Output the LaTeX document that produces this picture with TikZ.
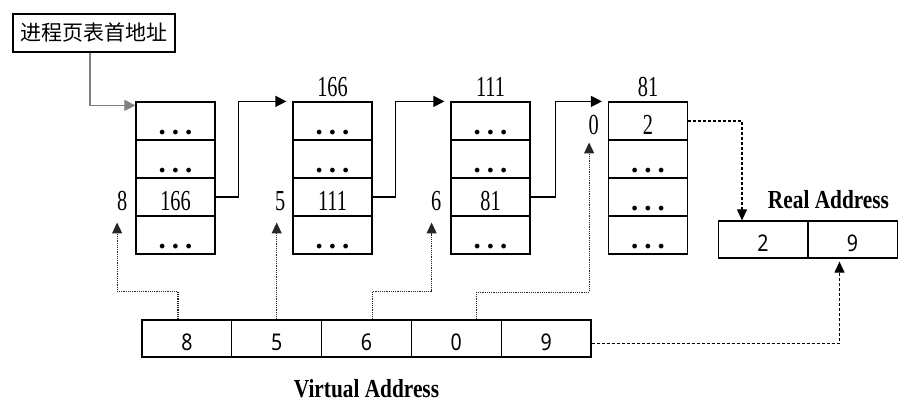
\documentclass[tikz,border=0pt]{standalone}
\usepackage{fontspec}
\setmainfont{Liberation Serif}
\newfontfamily\cjk{Noto Sans CJK SC}
\newfontfamily\tabfont[FakeStretch=0.7]{Liberation Serif}
\newfontfamily\titlefont[FakeStretch=0.82]{Liberation Serif}
\newfontfamily\numfont[FakeStretch=0.85]{Noto Sans}
\usetikzlibrary{arrows.meta, positioning, calc}
\newcommand{\ddd}{{\rmfamily\bfseries .\hspace{6pt}.\hspace{6pt}.}}

\begin{document}
\begin{tikzpicture}[x=1pt, y=-1pt,
    cell/.style={draw, line width=1.2pt, minimum width=79pt, minimum height=38pt, inner sep=0pt,
        text height=32pt, text depth=6pt, font=\tabfont\fontsize{29}{31}\selectfont},
    vcell/.style={draw, line width=1.2pt, minimum width=89.8pt, minimum height=37pt, inner sep=0pt,
        text height=30pt, text depth=7pt, font=\numfont\fontsize{23}{26}\selectfont},
    headbox/.style={draw, line width=1.4pt, minimum width=162pt, minimum height=38pt, inner sep=0pt,
        font=\cjk\fontsize{21}{24}\selectfont},
    lbl/.style={inner sep=0pt, font=\tabfont\fontsize{29}{31}\selectfont},
    title/.style={inner sep=0pt, font=\titlefont\bfseries\fontsize{26}{28}\selectfont},
    link/.style={line width=1.2pt, -{Triangle[length=11pt, width=11pt]}},
    ptr/.style={densely dotted, line width=1.2pt, black!85, -{Triangle[length=11pt, width=10pt]}},
    refline/.style={dash pattern=on 3pt off 2pt, line width=1.1pt, -{Triangle[length=11pt, width=10pt]}}]
    \useasboundingbox (0,0) rectangle (908,410);

    \node[headbox] (head) at (94,33) {进程页表首地址};

    % page tables
    \foreach \t/\x/\a/\b/\c/\d in {1/175.5/\ddd/\ddd/166/\ddd, 2/332.5/\ddd/\ddd/111/\ddd,
                                   3/490.5/\ddd/\ddd/81/\ddd, 4/648/2/\ddd/\ddd/\ddd} {
        \node[cell] (p\t-1) at (\x,121) {\a};
        \node[cell] (p\t-2) at (\x,159) {\b};
        \node[cell] (p\t-3) at (\x,197) {\c};
        \node[cell] (p\t-4) at (\x,235) {\d};
    }

    \node[lbl, anchor=base] (v2) at ([yshift=5pt]p2-1.north) {166};
    \node[lbl, anchor=base] (v3) at ([yshift=5pt]p3-1.north) {111};
    \node[lbl, anchor=base] (v4) at ([yshift=5pt]p4-1.north) {81};

    \node[lbl, anchor=base east] (k1) at ([xshift=-8pt]p1-3.base west) {8};
    \node[lbl, anchor=base east] (k2) at ([xshift=-7pt]p2-3.base west) {5};
    \node[lbl, anchor=base east] (k3) at ([xshift=-9pt]p3-3.base west) {6};
    \node[lbl, anchor=base east] (k4) at ([xshift=-9pt]p4-1.base west) {0};

    \draw[gray, line width=1.1pt, -{Triangle[length=11pt, width=11pt]}]
        ([xshift=-4pt]head.south) |- ([yshift=-4pt]p1-1.north west);
    \draw[link] (p1-3.east) -- ++(23pt,0) |- ([xshift=-6pt]p2-1.north west);
    \draw[link] (p2-3.east) -- ++(23pt,0) |- ([xshift=-6pt]p3-1.north west);
    \draw[link] (p3-3.east) -- ++(25pt,0) |- ([xshift=-6pt]p4-1.north west);

    % virtual and real address
    \foreach \i/\v in {1/8, 2/5, 3/6, 4/0, 5/9}
        \node[vcell] (a\i) at ({97.1+89.8*\i},338.5) {\v};
    \node[vcell] (r1) at (763,239.5) {2};
    \node[vcell] (r2) at (852.5,239.5) {9};

    \node[title, anchor=base] (rt) at ([xshift=20pt, yshift=12pt]r1.north east) {Real Address};
    \node[title, anchor=base] (vt) at ([yshift=-40pt]a3.south) {Virtual Address};

    \coordinate (e1) at ([xshift=-5pt, yshift=-12pt]k1.south);
    \coordinate (e2) at ([yshift=-12pt]k2.south);
    \coordinate (e3) at ([xshift=-4.5pt, yshift=-12pt]k3.south);
    \coordinate (e4) at ([xshift=-4.5pt, yshift=-8pt]k4.south);

    \draw[ptr] ([xshift=-9pt]a1.north) -- ++(0,28pt) -| (e1);
    \draw[ptr] (a2.north) -- (a2.north |- e2);
    \draw[ptr] ([xshift=6pt]a3.north) -- ++(0,28pt) -| (e3);
    \draw[ptr] ([xshift=20pt]a4.north) -- ++(0,27pt) -| (e4);

    \draw[refline] (p4-1.east) -| ([xshift=-21pt]r1.north);
    \draw[refline, shorten >=3pt] ([yshift=-5pt]a5.east) -| ([xshift=-13pt]r2.south);
\end{tikzpicture}
\end{document}
